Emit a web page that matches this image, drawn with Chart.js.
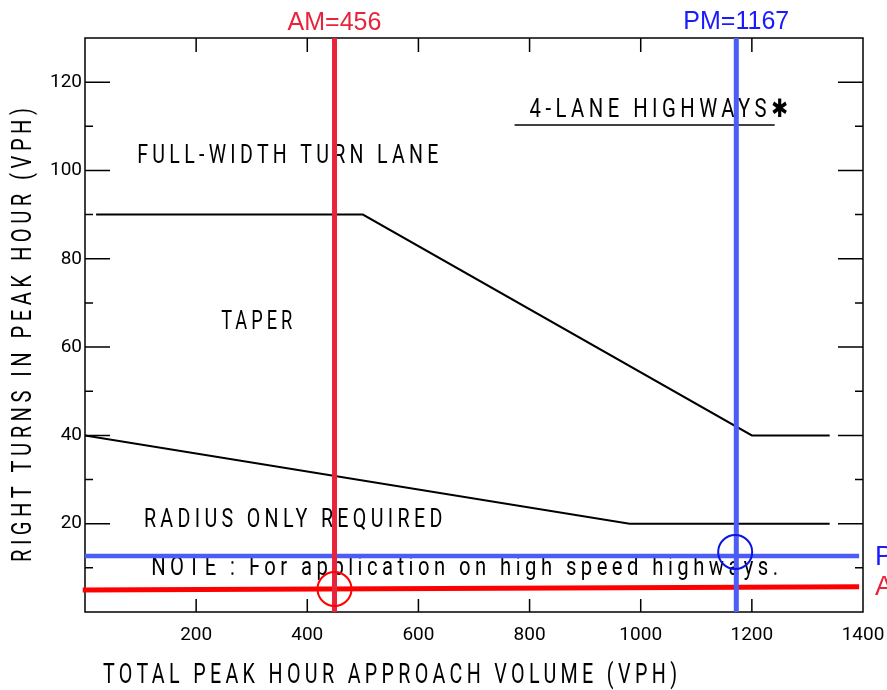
<!DOCTYPE html>
<html>
<head>
<meta charset="utf-8">
<script src="https://cdn.jsdelivr.net/npm/chart.js@4.4.1/dist/chart.umd.min.js"></script>
<style>
  html, body { margin: 0; padding: 0; background: #fff; }
  canvas { display: block; }
</style>
</head>
<body>
<canvas id="chart" width="887" height="690"></canvas>
<script>
// boundary lines of the design chart
const fullWidthX = [20, 500, 1200, 1340];
const fullWidthY = [90, 90, 40, 40];
const radiusX = [0, 980, 1340];
const radiusY = [40, 20, 20];

// peak hour volumes / turns
const amVolume = 449, pmVolume = 1172;
const amTurnsX = [-4, 1393], amTurnsY = [5.0, 5.7];
const pmTurnsX = [0, 1393], pmTurnsY = [12.7, 12.7];
const amPoint = [449, 5.2], pmPoint = [1170, 13.6];
const headingRuleX = [773, 1241], headingRuleY = [110.3, 110.3];

// axis ticks
const xTickLabels = [200, 400, 600, 800, 1000, 1200, 1400];
const xTickMarks = [200, 400, 600, 800, 1000, 1200];
const yTickLabels = [20, 40, 60, 80, 100, 120];
const yMinorTicks = [10, 30, 50, 70, 90, 110];

// region labels: [text, xStart, xEnd, baseline] in data units
const regionLabels = [
  ['4-LANE HIGHWAYS\u2731', 800, 1265, 112.1],
  ['FULL-WIDTH TURN LANE', 94, 636, 101.7],
  ['TAPER', 245, 373, 64.1],
  ['RADIUS ONLY REQUIRED', 106, 643, 19.3],
  ['NOTE : For application on high speed highways.', 119, 1247, 8.3]
];

const pts = (xs, ys) => xs.map((x, i) => ({ x: x, y: ys[i] }));

function fitText(ctx, text, x0, x1, base, cap, gap) {
  const size = cap / 0.711;
  ctx.save();
  ctx.font = size + 'px Roboto, "DejaVu Sans", sans-serif';
  ctx.letterSpacing = (gap * size) + 'px';
  const w = ctx.measureText(text).width - gap * size;
  ctx.translate(x0, base);
  ctx.scale((x1 - x0) / w, 1);
  ctx.textAlign = 'left';
  ctx.textBaseline = 'alphabetic';
  ctx.fillStyle = '#000';
  ctx.fillText(text, 0, 0);
  ctx.restore();
}

const framePlugin = {
  id: 'frame',
  beforeDatasetsDraw(chart) {
    const ctx = chart.ctx, a = chart.chartArea;
    const xs = chart.scales.x, ys = chart.scales.y;
    ctx.save();
    ctx.strokeStyle = '#000';
    ctx.lineWidth = 1.5;
    ctx.strokeRect(a.left, a.top, a.right - a.left, a.bottom - a.top);
    ctx.beginPath();
    yTickLabels.forEach(v => {
      const y = ys.getPixelForValue(v);
      ctx.moveTo(a.left, y); ctx.lineTo(a.left + 25, y);
      ctx.moveTo(a.right, y); ctx.lineTo(a.right - 25, y);
    });
    yMinorTicks.forEach(v => {
      const y = ys.getPixelForValue(v);
      ctx.moveTo(a.left, y); ctx.lineTo(a.left + 8, y);
      ctx.moveTo(a.right, y); ctx.lineTo(a.right - 8, y);
    });
    xTickMarks.forEach(v => {
      const x = xs.getPixelForValue(v);
      ctx.moveTo(x, a.bottom); ctx.lineTo(x, a.bottom - 13);
      ctx.moveTo(x, a.top); ctx.lineTo(x, a.top + 14);
    });
    ctx.stroke();

    regionLabels.forEach(l => {
      fitText(ctx, l[0], xs.getPixelForValue(l[1]), xs.getPixelForValue(l[2]),
        ys.getPixelForValue(l[3]), 18, 0.22);
    });

    // axis titles
    fitText(ctx, 'TOTAL PEAK HOUR APPROACH VOLUME (VPH)', 103, 677, 683, 20, 0.22);
    ctx.save();
    ctx.translate(31, 335);
    ctx.rotate(-Math.PI / 2);
    fitText(ctx, 'RIGHT TURNS IN PEAK HOUR (VPH)', -227, 227, 0, 20, 0.22);
    ctx.restore();
    ctx.restore();
  },
  afterDatasetsDraw(chart) {
    const ctx = chart.ctx;
    const xs = chart.scales.x;
    ctx.save();
    ctx.font = '25px "Liberation Sans", Arial, sans-serif';
    ctx.textAlign = 'center';
    ctx.textBaseline = 'alphabetic';
    ctx.fillStyle = '#e8243c';
    ctx.fillText('AM=456', xs.getPixelForValue(amVolume), 30);
    ctx.fillStyle = '#1a1aff';
    ctx.fillText('PM=1167', xs.getPixelForValue(pmVolume), 29);
    ctx.textAlign = 'left';
    ctx.font = '27px "Liberation Sans", Arial, sans-serif';
    ctx.fillStyle = '#1a1aff';
    ctx.fillText('PM', 875, 565);
    ctx.fillStyle = '#e8243c';
    ctx.fillText('AM', 875, 595);
    ctx.restore();
  }
};

const line = (data, color, width, order, extra) => Object.assign({
  data: data, showLine: true, borderColor: color, borderWidth: width,
  pointRadius: 0, fill: false, order: order
}, extra || {});

new Chart(document.getElementById('chart'), {
  type: 'scatter',
  data: {
    datasets: [
      line(pts(fullWidthX, fullWidthY), '#000', 2, 10),
      line(pts(radiusX, radiusY), '#000', 2, 10),
      line(pts(headingRuleX, headingRuleY), '#000', 1.5, 10),
      line(pts(amTurnsX, amTurnsY), '#ff0000', 5, 5, { clip: false }),
      line(pts(pmTurnsX, pmTurnsY), '#4b5cf7', 4.5, 5, { clip: false }),
      line([{ x: amVolume, y: 0 }, { x: amVolume, y: 130 }], '#e8243c', 5, 3),
      line([{ x: pmVolume, y: 0 }, { x: pmVolume, y: 130 }], '#4b5cf7', 5, 3),
      { data: [{ x: amPoint[0], y: amPoint[1] }], pointRadius: 17, pointBorderWidth: 2,
        pointBorderColor: '#ff0000', pointBackgroundColor: 'rgba(0,0,0,0)', order: 1, clip: false },
      { data: [{ x: pmPoint[0], y: pmPoint[1] }], pointRadius: 17, pointBorderWidth: 2,
        pointBorderColor: '#0a14e6', pointBackgroundColor: 'rgba(0,0,0,0)', order: 1, clip: false }
    ]
  },
  options: {
    responsive: false,
    animation: false,
    events: [],
    layout: { padding: { top: 38, right: 24, left: 0, bottom: 0 } },
    plugins: { legend: { display: false }, tooltip: { enabled: false } },
    scales: {
      x: {
        type: 'linear', min: 0, max: 1400,
        grid: { display: false, drawTicks: false },
        border: { display: false },
        ticks: { color: '#000', padding: 12, font: { family: 'Roboto', size: 19 }, callback: v => String(v) },
        afterBuildTicks: s => { s.ticks = xTickLabels.map(v => ({ value: v })); },
        afterFit: s => { s.height = 78; s.paddingLeft = 0; s.paddingRight = 0; }
      },
      y: {
        type: 'linear', min: 0, max: 130,
        grid: { display: false, drawTicks: false },
        border: { display: false },
        ticks: { color: '#000', padding: 3, font: { family: 'Roboto', size: 19 }, callback: v => String(v) },
        afterBuildTicks: s => { s.ticks = yTickLabels.map(v => ({ value: v })); },
        afterFit: s => { s.width = 85; s.paddingTop = 0; s.paddingBottom = 0; }
      }
    }
  },
  plugins: [framePlugin]
});
</script>
</body>
</html>
